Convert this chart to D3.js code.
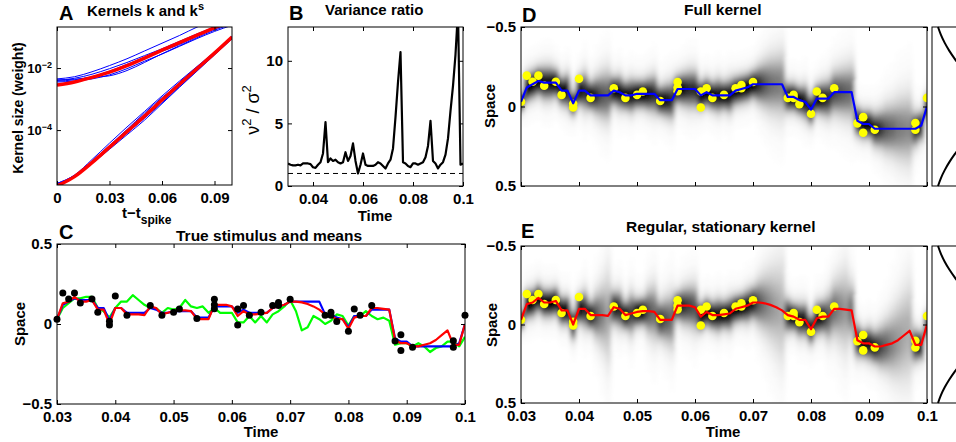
<!DOCTYPE html>
<html><head>
<meta charset="utf-8">
<script src="https://d3js.org/d3.v7.min.js"></script>
<style>
  body { margin: 0; background: #fff; }
  svg text { font-family: "Liberation Sans", Arial, sans-serif; font-weight: bold; fill: #000; }
  .tick line { stroke: #000; }
</style>
</head>
<body>
<svg id="fig" width="956" height="442"></svg>
<script>

// ---- data ----

// panel A: kernel lag grid and log10 kernel weights
const kernelLags = [0, 0.01, 0.02, 0.03, 0.04, 0.05, 0.06, 0.07, 0.08, 0.09, 0.1];
const kUpperRedLog = [-2.55, -2.45, -2.30, -2.13, -1.92, -1.68, -1.42, -1.18, -0.94, -0.70, -0.46];
const kLowerRedLog = [-5.80, -5.50, -5.05, -4.55, -4.05, -3.55, -3.03, -2.52, -2.02, -1.52, -1.00];
const kUpperBlueLog = [
  [-2.35, -2.28, -2.12, -1.92, -1.70, -1.45, -1.20, -0.95, -0.68, -0.45, -0.25],
  [-2.40, -2.33, -2.20, -2.02, -1.82, -1.60, -1.38, -1.14, -0.90, -0.68, -0.48],
  [-2.42, -2.38, -2.28, -2.10, -1.88, -1.66, -1.46, -1.24, -0.98, -0.74, -0.55],
  [-2.45, -2.42, -2.35, -2.22, -2.02, -1.78, -1.55, -1.30, -1.05, -0.82, -0.62],
  [-2.38, -2.36, -2.30, -2.25, -2.08, -1.82, -1.54, -1.28, -1.02, -0.78, -0.58]
];
const kLowerBlueLog = [
  [-5.72, -5.45, -4.95, -4.42, -3.90, -3.40, -2.90, -2.42, -1.95, -1.48, -0.98],
  [-5.74, -5.48, -5.00, -4.50, -3.98, -3.45, -2.95, -2.50, -2.00, -1.52, -1.02],
  [-5.73, -5.50, -5.05, -4.58, -4.10, -3.62, -3.12, -2.60, -2.08, -1.56, -1.05],
  [-5.72, -5.46, -5.02, -4.52, -4.02, -3.50, -3.00, -2.46, -1.97, -1.50, -1.00],
  [-5.75, -5.52, -5.08, -4.62, -4.15, -3.68, -3.15, -2.62, -2.10, -1.58, -1.06]
];

// panels B-E: time grid 0.030 .. 0.100
const times = d3.range(71).map(i => +(0.030 + i * 0.001).toFixed(3));

const varRatio = [
  1.8, 1.7, 1.65, 1.65, 1.7, 1.65, 1.8, 1.8, 1.8, 1.75,
  1.5, 1.45, 1.7, 1.9, 2.6, 5.1, 1.9, 2.2, 2.0, 2.1,
  1.9, 1.8, 1.9, 2.7, 2.0, 2.4, 3.4, 2.0, 1.0, 1.7,
  2.6, 1.7, 1.6, 1.6, 1.6, 1.7, 1.9, 1.8, 1.6, 1.4,
  1.8, 2.1, 3.0, 5.5, 8.3, 10.7, 1.9, 1.8, 1.6, 1.5,
  1.8, 1.8, 1.7, 1.8, 1.9, 2.3, 3.2, 5.2, 2.0, 1.8,
  1.4, 1.7, 1.9, 2.5, 3.8, 6.0, 8.0, 10.5, 14.0, 1.7,
  1.8
];

const meanFull = [ // blue
  0.03, 0.12, 0.14, 0.16, 0.15, 0.15, 0.15, 0.10, 0.10, 0.02,
  0.10, 0.10, 0.07, 0.07, 0.07, 0.07, 0.10, 0.09, 0.07, 0.07,
  0.08, 0.08, 0.08, 0.08, 0.04, 0.04, 0.04, 0.11, 0.11, 0.11,
  0.11, 0.07, 0.09, 0.07, 0.07, 0.07, 0.07, 0.10, 0.11, 0.12,
  0.14, 0.14, 0.14, 0.14, 0.14, 0.14, 0.06, 0.06, 0.04, 0.03,
  -0.02, 0.05, 0.05, 0.05, 0.09, 0.09, 0.09, 0.09, -0.09, -0.11,
  -0.11, -0.14, -0.14, -0.14, -0.14, -0.14, -0.14, -0.14, -0.14, -0.12,
  0.00
];
const meanStat = [ // red
  0.03, 0.13, 0.14, 0.17, 0.14, 0.14, 0.15, 0.09, 0.09, 0.00,
  0.10, 0.10, 0.06, 0.06, 0.06, 0.055, 0.11, 0.10, 0.06, 0.07,
  0.08, 0.085, 0.085, 0.08, 0.03, 0.03, 0.03, 0.12, 0.12, 0.12,
  0.11, 0.05, 0.08, 0.06, 0.06, 0.065, 0.07, 0.10, 0.11, 0.12,
  0.14, 0.14, 0.135, 0.125, 0.11, 0.09, 0.06, 0.05, 0.03, 0.03,
  -0.03, 0.04, 0.05, 0.05, 0.10, 0.10, 0.095, 0.09, -0.10, -0.12,
  -0.12, -0.14, -0.14, -0.13, -0.12, -0.10, -0.07, -0.04, -0.13, -0.13,
  0.00
];
const trueStim = [ // green
  0.03, 0.10, 0.13, 0.16, 0.16, 0.17, 0.17, 0.10, 0.08, 0.04,
  0.10, 0.14, 0.14, 0.18, 0.15, 0.12, 0.10, 0.10, 0.07, 0.10,
  0.09, 0.10, 0.15, 0.11, 0.10, 0.11, 0.07, 0.10, 0.07, 0.07,
  0.07, 0.01, 0.01, 0.05, 0.01, 0.05, 0.01, 0.06, 0.08, 0.11,
  0.15, 0.08, -0.04, -0.02, 0.05, 0.03, 0.00, 0.02, 0.06, 0.05,
  -0.01, 0.05, 0.05, 0.08, 0.05, 0.03, 0.04, 0.02, -0.13, -0.12,
  -0.12, -0.14, -0.12, -0.14, -0.175, -0.15, -0.14, -0.11, -0.11, -0.14,
  -0.08
];
const sdFull = [
  0.04, 0.06, 0.06, 0.06, 0.07, 0.07, 0.06, 0.06, 0.07, 0.05,
  0.06, 0.08, 0.06, 0.08, 0.10, 0.11, 0.06, 0.07, 0.06, 0.07,
  0.06, 0.06, 0.07, 0.08, 0.06, 0.07, 0.08, 0.06, 0.07, 0.08,
  0.08, 0.06, 0.06, 0.06, 0.07, 0.06, 0.07, 0.06, 0.06, 0.06,
  0.06, 0.08, 0.10, 0.12, 0.13, 0.14, 0.06, 0.06, 0.06, 0.07,
  0.06, 0.06, 0.07, 0.08, 0.09, 0.10, 0.11, 0.12, 0.06, 0.06,
  0.06, 0.07, 0.08, 0.10, 0.11, 0.13, 0.14, 0.15, 0.07, 0.06,
  0.05
];
const sdStat = [
  0.04, 0.06, 0.06, 0.06, 0.06, 0.06, 0.06, 0.06, 0.06, 0.06,
  0.06, 0.08, 0.06, 0.10, 0.14, 0.20, 0.07, 0.08, 0.06, 0.09,
  0.06, 0.06, 0.10, 0.12, 0.08, 0.10, 0.12, 0.06, 0.08, 0.09,
  0.10, 0.06, 0.06, 0.06, 0.07, 0.06, 0.07, 0.06, 0.06, 0.07,
  0.07, 0.10, 0.13, 0.16, 0.19, 0.22, 0.07, 0.06, 0.07, 0.07,
  0.06, 0.07, 0.07, 0.10, 0.12, 0.15, 0.18, 0.12, 0.07, 0.06,
  0.07, 0.07, 0.09, 0.11, 0.14, 0.17, 0.20, 0.22, 0.07, 0.06,
  0.05
];

const spikeTimes = [0.030, 0.031, 0.032, 0.033, 0.034, 0.036, 0.037, 0.039, 0.039, 0.040,
  0.042, 0.046, 0.048, 0.050, 0.051, 0.054, 0.057, 0.057, 0.057, 0.061,
  0.061, 0.062, 0.063, 0.065, 0.067, 0.068, 0.068, 0.070, 0.076, 0.077,
  0.077, 0.078, 0.080, 0.081, 0.082, 0.084, 0.088, 0.089, 0.089, 0.091,
  0.098, 0.098, 0.100];
const spikePos = [0.03, 0.194, 0.156, 0.194, 0.131, 0.156, 0.073, 0.017, -0.006, 0.175,
  0.054, 0.115, 0.054, 0.073, 0.094, 0.035, 0.154, 0.12, 0.096, 0.094,
  -0.006, 0.115, 0.054, 0.073, 0.115, 0.135, 0.115, 0.154, 0.054, 0.073,
  0.054, 0.015, -0.046, 0.094, 0.054, 0.115, -0.106, -0.067, -0.165, -0.146,
  -0.104, -0.146, 0.054];

// side panels: prior density over space
const priorSpace = [-0.5, -0.45, -0.4, -0.35, -0.3, -0.25, -0.2, -0.15, -0.1, -0.05, 0,
  0.05, 0.1, 0.15, 0.2, 0.25, 0.3, 0.35, 0.4, 0.45, 0.5];
const priorDensity = [1.0, 1.49, 2.12, 2.89, 3.79, 4.77, 5.80, 6.73, 7.46, 7.89, 8.0,
  7.89, 7.46, 6.73, 5.80, 4.77, 3.79, 2.89, 2.12, 1.49, 1.0];

// ---- helpers ----
const svg = d3.select("#fig");
const defs = svg.append("defs");
let clipN = 0;

defs.append("filter").attr("id", "smear")
  .append("feGaussianBlur").attr("stdDeviation", "2.2 0.8");

function clipFor(x, y) {
  const id = "clip" + (clipN++);
  const [l, r] = d3.extent(x.range()), [t, b] = d3.extent(y.range());
  defs.append("clipPath").attr("id", id).append("rect")
    .attr("x", l).attr("y", t).attr("width", r - l).attr("height", b - t);
  return `url(#${id})`;
}

const fmtNum = d => (d < 0 ? "\u2212" : "") + String(+Math.abs(d).toFixed(2));

function drawAxes(x, y, o) {
  const [left, right] = d3.extent(x.range()), [top, bottom] = d3.extent(y.range());
  const g = svg.append("g");
  g.append("g").attr("transform", `translate(0,${bottom})`)
    .call(d3.axisBottom(x).tickValues(o.xt).tickSize(-4).tickSizeOuter(0).tickPadding(7).tickFormat(o.xf || ""));
  g.append("g").attr("transform", `translate(0,${top})`)
    .call(d3.axisTop(x).tickValues(o.xt).tickSize(-4).tickSizeOuter(0).tickFormat(""));
  const yl = g.append("g").attr("transform", `translate(${left},0)`)
    .call(d3.axisLeft(y).tickValues(o.yt).tickSize(-4).tickSizeOuter(0).tickPadding(5).tickFormat(o.yf || ""));
  g.append("g").attr("transform", `translate(${right},0)`)
    .call(d3.axisRight(y).tickValues(o.yt).tickSize(-4).tickSizeOuter(0).tickFormat(""));
  g.selectAll(".domain").remove();
  g.selectAll("g").attr("font-family", null).attr("font-size", null);
  g.selectAll("text").attr("font-size", 15);
  g.append("rect").attr("x", left).attr("y", top).attr("width", right - left).attr("height", bottom - top)
    .attr("fill", "none").attr("stroke", "#000");
  return yl;
}

function label(txt, x, y, size, rot) {
  const t = svg.append("text").attr("x", x).attr("y", y).attr("font-size", size).text(txt);
  if (rot) t.attr("text-anchor", "middle").attr("transform", `rotate(-90,${x},${y})`);
  return t;
}

// ---- panel A ----
const xA = d3.scaleLinear().domain([0, 0.1]).range([57, 232]);
const yA = d3.scaleLog().domain([10 ** -5.77, 10 ** -0.677]).range([185, 27]);
const gA = svg.append("g").attr("clip-path", clipFor(xA, yA));
const lineA = d3.line().x((d, i) => xA(kernelLags[i])).y(d => yA(10 ** d)).curve(d3.curveMonotoneX);
gA.selectAll("path.blue").data(kUpperBlueLog.concat(kLowerBlueLog)).join("path")
  .attr("d", lineA).attr("fill", "none").attr("stroke", "#0000ff").attr("stroke-width", 1);
gA.selectAll("path.red").data([kUpperRedLog, kLowerRedLog]).join("path")
  .attr("d", lineA).attr("fill", "none").attr("stroke", "#ff0000").attr("stroke-width", 3.5);
const ylA = drawAxes(xA, yA, { xt: [0, 0.03, 0.06, 0.09], xf: fmtNum, yt: [1e-4, 1e-2], yf: d => "" });
ylA.selectAll(".tick text").attr("font-size", 13).each(function (d) {
  const t = d3.select(this);
  t.append("tspan").text("10");
  t.append("tspan").attr("dy", "-0.5em").attr("font-size", 9).text("\u2212" + Math.round(-Math.log10(d)));
});
label("A", 59, 20, 20);
const tA = label("Kernels  k and k", 87, 16, 15);
tA.append("tspan").attr("dy", -6).attr("font-size", 11).text("s");
label("Kernel size (weight)", 23, 108, 14, true);
const xlA = label("t\u2212t", 122, 218, 15);
xlA.append("tspan").attr("dy", 6).attr("font-size", 12).text("spike");

// ---- panel B ----
const xB = d3.scaleLinear().domain([0.03, 0.1]).range([288, 463]);
const yB = d3.scaleLinear().domain([0, 12.7]).range([186, 27]);
const gB = svg.append("g").attr("clip-path", clipFor(xB, yB));
gB.append("line").attr("x1", xB(0.03)).attr("x2", xB(0.1)).attr("y1", yB(1)).attr("y2", yB(1))
  .attr("stroke", "#000").attr("stroke-dasharray", "5,4");
gB.append("path").datum(varRatio)
  .attr("d", d3.line().x((d, i) => xB(times[i])).y(d => yB(d)))
  .attr("fill", "none").attr("stroke", "#000").attr("stroke-width", 2.2).attr("stroke-linejoin", "round");
drawAxes(xB, yB, { xt: [0.04, 0.06, 0.08, 0.1], xf: fmtNum, yt: [0, 5, 10], yf: d => String(d) });
label("B", 289, 20, 20);
label("Variance ratio", 325, 15, 15);
label("Time", 375, 221, 15).attr("text-anchor", "middle");
const lbB = svg.append("text").attr("transform", "translate(259,110) rotate(-90)")
  .attr("text-anchor", "middle").attr("font-size", 18).style("font-weight", "normal");
lbB.append("tspan").text("\u03bd");
lbB.append("tspan").attr("dy", -8).attr("font-size", 13).text("2");
lbB.append("tspan").attr("dy", 8).text(" / \u03c3");
lbB.append("tspan").attr("dy", -8).attr("font-size", 13).text("2");

// ---- panel C ----
const xC = d3.scaleLinear().domain([0.03, 0.1]).range([57, 465]);
const yC = d3.scaleLinear().domain([-0.5, 0.5]).range([404, 244]);
const gC = svg.append("g").attr("clip-path", clipFor(xC, yC));
const lineC = d3.line().x((d, i) => xC(times[i])).y(d => yC(d));
[[trueStim, "#00ff00"], [meanFull, "#0000ff"], [meanStat, "#ff0000"]].forEach(([s, c]) => {
  gC.append("path").datum(s).attr("d", lineC).attr("fill", "none")
    .attr("stroke", c).attr("stroke-width", 2.2).attr("stroke-linejoin", "round");
});
svg.append("g").selectAll("circle").data(spikeTimes).join("circle")
  .attr("cx", d => xC(d)).attr("cy", (d, i) => yC(spikePos[i])).attr("r", 3.5).attr("fill", "#000");
const xTicks = [0.03, 0.04, 0.05, 0.06, 0.07, 0.08, 0.09, 0.1];
const spaceFmt = d => d === 0 ? "0" : d3.format(".1f")(d);
drawAxes(xC, yC, { xt: xTicks, xf: fmtNum, yt: [-0.5, 0, 0.5], yf: spaceFmt });
label("C", 59, 239, 20);
label("True stimulus and means", 176, 241, 15.5);
label("Space", 25, 324, 15, true);
label("Time", 261, 437, 15).attr("text-anchor", "middle");

// ---- panels D and E (image rows run with space downward, axis ij) ----
const rowStep = 0.0125;
const spaceRows = d3.range(80).map(i => -0.5 + i * rowStep);
const grey = d3.scaleSequential(d3.interpolateGreys).domain([0, 1]);

function drawDensity(g, x, y, means, sds) {
  const cells = [];
  times.forEach((t, i) => {
    const peak = Math.min(1, Math.pow(0.065 / sds[i], 0.7));
    spaceRows.forEach(s => {
      const z = (s + rowStep / 2 - means[i]) / sds[i];
      // narrow core plus a slightly broader tail
      const v = peak * (0.85 * Math.exp(-0.5 * z * z) + 0.15 * Math.exp(-0.5 * (z / 1.8) ** 2));
      if (v > 0.01) cells.push({ t, s, v });
    });
  });
  g.attr("filter", "url(#smear)");
  g.selectAll("rect").data(cells).join("rect")
    .attr("x", d => x(d.t - 0.0005)).attr("width", x(0.031) - x(0.030) + 0.4)
    .attr("y", d => y(-(d.s + rowStep))).attr("height", Math.abs(y(rowStep) - y(0)) + 0.4)
    .attr("fill", d => grey(d.v));
}

function kernelPanel(top, bottom, means, sds, lineColor, showX) {
  const x = d3.scaleLinear().domain([0.03, 0.1]).range([521, 927]);
  const y = d3.scaleLinear().domain([-0.5, 0.5]).range([top, bottom]);
  const g = svg.append("g").attr("clip-path", clipFor(x, y));
  drawDensity(g.append("g"), x, y, means, sds);
  g.append("g").selectAll("circle").data(spikeTimes).join("circle")
    .attr("cx", d => x(d)).attr("cy", (d, i) => y(-spikePos[i])).attr("r", 4.3).attr("fill", "#ffff00");
  g.append("path").datum(means)
    .attr("d", d3.line().x((d, i) => x(times[i])).y(d => y(-d)))
    .attr("fill", "none").attr("stroke", lineColor).attr("stroke-width", 2.2).attr("stroke-linejoin", "round");
  drawAxes(x, y, { xt: xTicks, xf: showX ? fmtNum : d => "", yt: [-0.5, 0, 0.5], yf: spaceFmt });

  // side panel with the prior over space
  const xs = d3.scaleLinear().domain([0, 12]).range([932, 1004]);
  svg.append("rect").attr("x", 932).attr("y", top).attr("width", 72).attr("height", bottom - top)
    .attr("fill", "none").attr("stroke", "#000");
  svg.append("path").datum(priorDensity)
    .attr("d", d3.line().x(d => xs(d)).y((d, i) => y(priorSpace[i])).curve(d3.curveNatural))
    .attr("fill", "none").attr("stroke", "#000").attr("stroke-width", 2);
}

kernelPanel(27, 186, meanFull, sdFull, "#0000ff", false);
label("D", 522, 22, 20);
label("Full kernel", 684, 15, 15.5);
label("Space", 495, 106, 15, true);

kernelPanel(246, 403, meanStat, sdStat, "#ff0000", true);
label("E", 521, 238, 20);
label("Regular, stationary kernel", 626, 232, 15.5);
label("Space", 497, 325, 15, true);
label("Time", 723, 437, 15).attr("text-anchor", "middle");

</script>
</body>
</html>
